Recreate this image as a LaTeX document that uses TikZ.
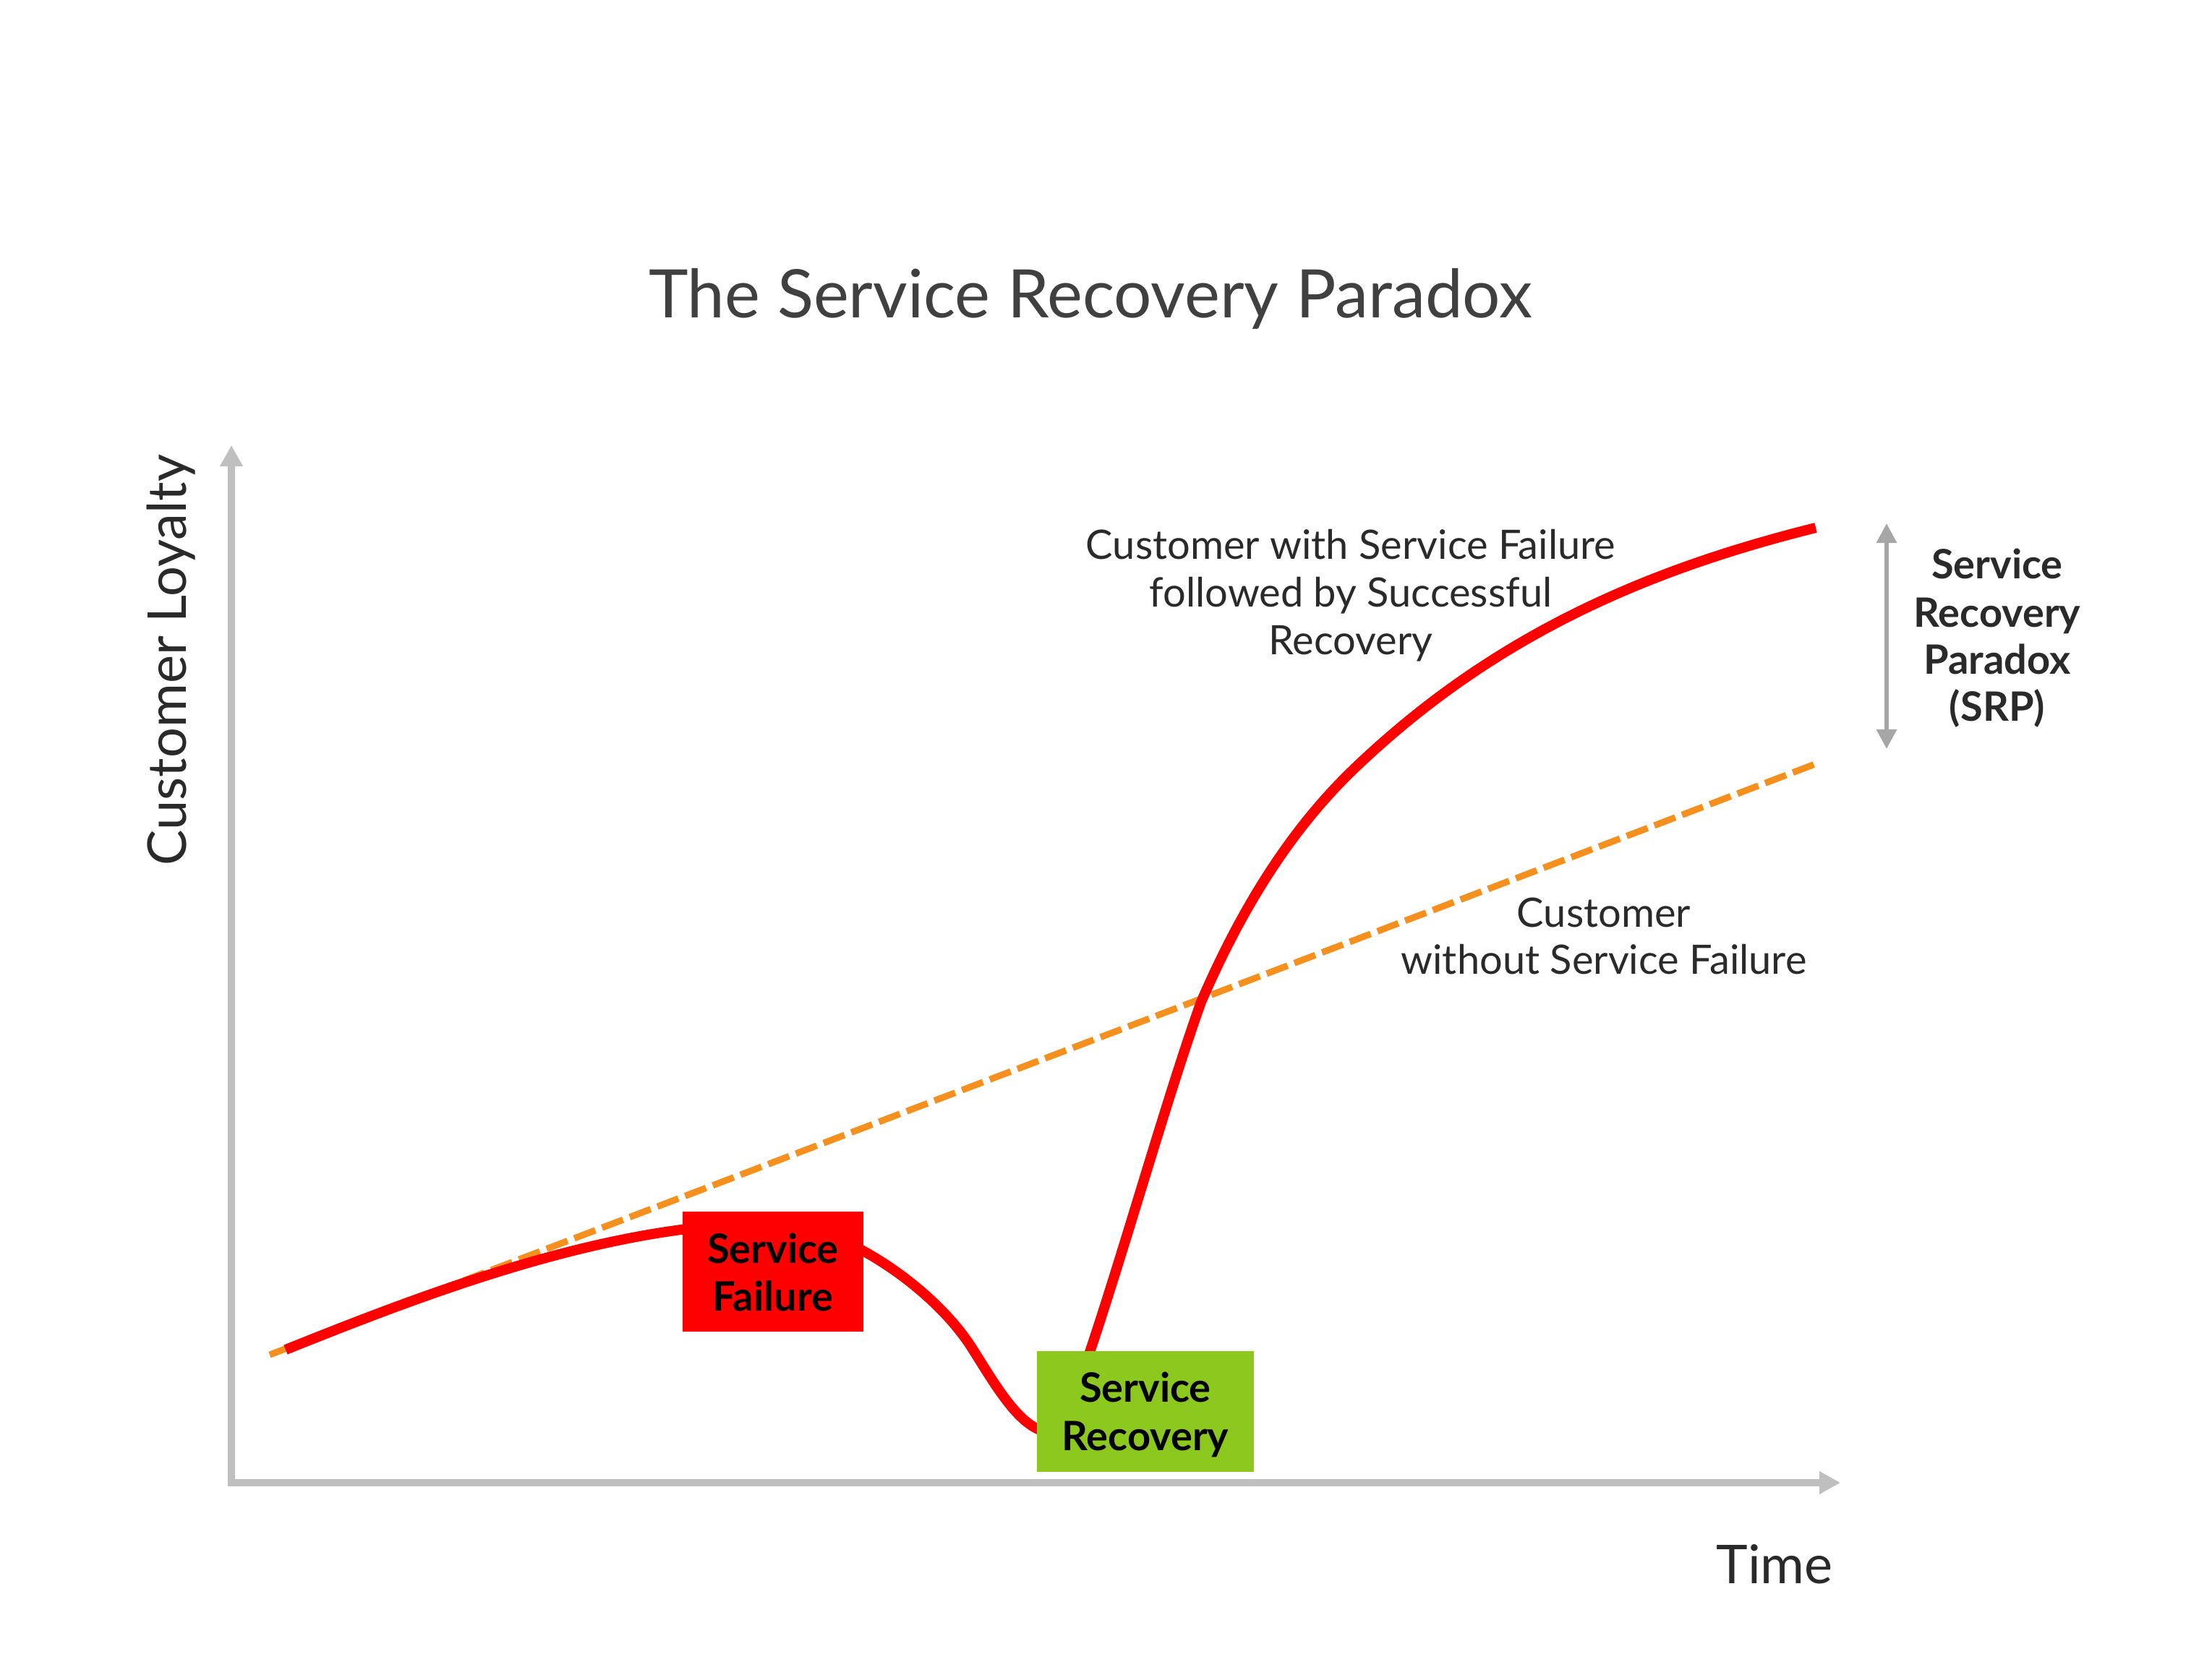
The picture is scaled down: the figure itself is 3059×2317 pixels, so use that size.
\documentclass[tikz,border=0pt]{standalone}
\usepackage{fontspec}
\setmainfont{Lato}
\usetikzlibrary{arrows.meta}
\definecolor{axisgray}{HTML}{BFBFBF}
\definecolor{srpgray}{HTML}{A6A6A6}
\definecolor{lineorange}{HTML}{F5901E}
\definecolor{boxgreen}{HTML}{8CC81E}
\definecolor{boxred}{HTML}{FF0000}
\definecolor{txt}{HTML}{2A2A2A}
\definecolor{titletxt}{HTML}{404040}
\begin{document}
\begin{tikzpicture}[x=1pt,y=-1pt,
  axis/.style={draw=axisgray, line width=10pt, line join=miter,
    {Triangle[length=29pt,width=30pt]}-{Triangle[length=29pt,width=30pt]}},
  srparrow/.style={draw=srpgray, line width=6pt,
    {Triangle[length=27pt,width=27pt]}-{Triangle[length=27pt,width=27pt]}},
  lbl/.style={anchor=base, inner sep=0pt, text=txt, font=\fontsize{56}{66}\selectfont},
  boldlbl/.style={anchor=base, inner sep=0pt, text=txt, font=\fontsize{56}{66}\selectfont\bfseries},
  boxtxt/.style={anchor=base, inner sep=0pt, text=black, font=\fontsize{56}{66}\selectfont\bfseries},
  boxshape/.style={draw=none, rectangle, inner sep=0pt, minimum height=166pt},
  redline/.style={draw=boxred, line width=14pt, line cap=butt},
  orangeline/.style={draw=lineorange, line width=9pt, dash pattern=on 31pt off 10pt}
]
\useasboundingbox (0,0) rectangle (3059,2317);
\fill[white] (0,0) rectangle (3059,2317);

% title and axis labels
\node[anchor=base, inner sep=0pt, text=titletxt, font=\fontsize{92.5}{110}\selectfont] (title) at (1508,439) {The Service Recovery Paradox};
\node[anchor=base, inner sep=0pt, text=txt, rotate=90, font=\fontsize{74}{90}\selectfont] (ylab) at (257,913) {Customer Loyalty};
\node[anchor=base, inner sep=0pt, text=txt, font=\fontsize{74}{90}\selectfont] (xlab) at (2454,2190) {Time};

% axes
\coordinate (origin) at (320,2051);
\coordinate (ytip) at (320,616);
\coordinate (xtip) at (2545,2051);
\draw[axis] (ytip) -- (origin) -- (xtip);

% customer without failure (dashed)
\coordinate (ostart) at (373,1874);
\coordinate (oend) at (2515,1055);
\draw[orangeline] (ostart) -- (oend);

% customer with failure and recovery
\coordinate (rstart) at (395,1867);
\coordinate (rpeak) at (1070,1692);
\coordinate (rmid) at (1343,1863);
\coordinate (rlow) at (1450,1981);
\draw[redline] (rstart) .. controls (604,1783) and (845,1692) .. (rpeak)
  .. controls (1160,1692) and (1289,1779) .. (rmid)
  .. controls (1375,1913) and (1410,1977) .. (rlow);
\coordinate (rup) at (1497,1900);
\coordinate (rsteep) at (1661,1386);
\coordinate (rshoulder) at (1873,1063);
\coordinate (rend) at (2511,730);
\draw[redline] (rup) .. controls (1552,1740) and (1611,1526) .. (rsteep)
  .. controls (1713,1266) and (1779,1153) .. (rshoulder)
  .. controls (2061,883) and (2270,790) .. (rend);

% boxes
\node[boxshape, fill=boxred, minimum width=250pt] (sf) at (1069,1759) {};
\node[boxshape, fill=boxgreen, minimum width=300pt, minimum height=167pt] (sr) at (1584,1952.5) {};
\node[boxtxt] (sf1) at (1069,1747) {Service};
\node[boxtxt] (sf2) at (1069,1813) {Failure};
\node[boxtxt] (sr1) at (1584,1939) {Service};
\node[boxtxt] (sr2) at (1584,2006) {Recovery};

% labels
\node[lbl] (up1) at (1868,773) {Customer with Service Failure};
\node[lbl] (up2) at (1868,839) {followed by Successful};
\node[lbl] (up3) at (1868,905) {Recovery};
\node[lbl] (lo1) at (2218,1282) {Customer};
\node[lbl] (lo2) at (2218,1347) {without Service Failure};

% SRP
\coordinate (srptop) at (2609,724);
\coordinate (srpbot) at (2609,1036);
\draw[srparrow] (srpbot) -- (srptop);
\node[boldlbl] (srp1) at (2762,800) {Service};
\node[boldlbl] (srp2) at (2762,867) {Recovery};
\node[boldlbl] (srp3) at (2762,932) {Paradox};
\node[boldlbl] (srp4) at (2762,997) {(SRP)};
\end{tikzpicture}
\end{document}
